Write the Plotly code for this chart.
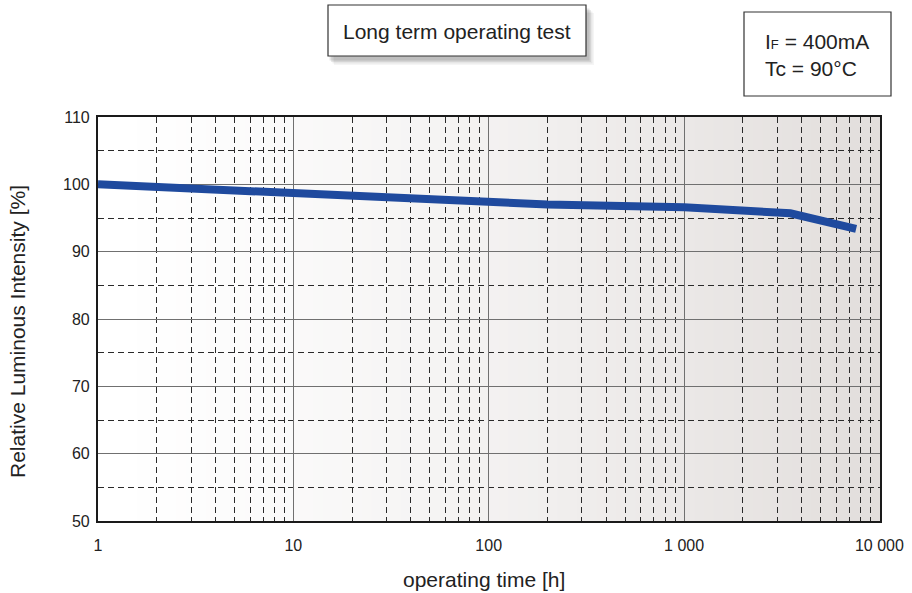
import plotly.graph_objects as go

# ---- data ----
hours = [1, 10, 100, 200, 1000, 3500, 7600]
intensity = [100.0, 98.6, 97.4, 97.0, 96.6, 95.7, 93.4]

x_tickvals = [1, 10, 100, 1000, 10000]
x_ticktext = ["1", "10", "100", "1 000", "10 000"]
x_minor = [m * 10 ** d for d in range(4) for m in range(2, 10)]
y_tickvals = [50, 60, 70, 80, 90, 100, 110]
y_minor = [55, 65, 75, 85, 95, 105]

FONT = "Arial, Liberation Sans, sans-serif"

L, R, T, B = 98, 32, 117, 72
W, H = 912, 593
PW, PH = W - L - R, H - T - B


def px(x):
    return (x - L) / PW


def py(y):
    return (H - B - y) / PH


fig = go.Figure()
fig.add_trace(go.Scatter(
    x=hours, y=intensity, mode="lines",
    line=dict(color="#1f4a9e", width=8),
    showlegend=False, hoverinfo="skip",
))

shapes = []
# gradient background (white -> light warm gray)
n = 80
c0 = (255, 255, 255)
c1 = (226, 222, 220)
for i in range(n):
    t = i / (n - 1)
    t2 = t ** 1.3
    col = tuple(round(c0[k] + (c1[k] - c0[k]) * t2) for k in range(3))
    shapes.append(dict(
        type="rect", xref="x domain", yref="y domain",
        x0=i / n, x1=(i + 1) / n + 0.002, y0=0, y1=1,
        fillcolor="rgb(%d,%d,%d)" % col, line=dict(width=0), layer="below",
    ))

# title box shadow + box
for k, op in enumerate([0.10, 0.08, 0.06, 0.04]):
    d = (k + 1) * 1.5
    shapes.append(dict(
        type="rect", xref="paper", yref="paper",
        x0=px(328 + d), x1=px(586 + d + 2),
        y0=py(57 + d + 2), y1=py(7 + d),
        fillcolor="rgba(0,0,0,%.2f)" % op, line=dict(width=0),
    ))
shapes.append(dict(
    type="rect", xref="paper", yref="paper",
    x0=px(328), x1=px(586), y0=py(56), y1=py(5),
    fillcolor="white", line=dict(color="#333333", width=1.2),
))
# condition box
shapes.append(dict(
    type="rect", xref="paper", yref="paper",
    x0=px(744), x1=px(891), y0=py(96), y1=py(12),
    fillcolor="white", line=dict(color="#333333", width=1.2),
))

annotations = [
    dict(text="Long term operating test", xref="paper", yref="paper",
         x=px(457), y=py(31), showarrow=False,
         font=dict(family=FONT, size=21, color="#222222"),
         xanchor="center", yanchor="middle"),
    dict(text="I<span style='font-size:13px'>F</span> = 400mA<br>Tc = 90°C",
         xref="paper", yref="paper",
         x=px(763), y=py(55), showarrow=False, align="left",
         font=dict(family=FONT, size=21, color="#222222"),
         xanchor="left", yanchor="middle"),
    dict(text="operating time [h]", xref="paper", yref="paper",
         x=px(484), y=py(579), showarrow=False,
         font=dict(family=FONT, size=21, color="#222222"),
         xanchor="center", yanchor="middle"),
    dict(text="Relative Luminous Intensity [%]", xref="paper", yref="paper",
         x=px(17), y=py(332), showarrow=False, textangle=-90,
         font=dict(family=FONT, size=21, color="#222222"),
         xanchor="center", yanchor="middle"),
]

fig.update_layout(
    width=W, height=H,
    margin=dict(l=L, r=R, t=T, b=B),
    paper_bgcolor="white", plot_bgcolor="white",
    font=dict(family=FONT, size=16, color="#222222"),
    shapes=shapes, annotations=annotations,
    showlegend=False,
)

fig.update_xaxes(
    type="log", range=[0, 4.003], automargin=False,
    tickmode="array", tickvals=x_tickvals, ticktext=x_ticktext,
    ticks="", ticklabelstandoff=9,
    tickfont=dict(family=FONT, size=16, color="#222222"),
    showgrid=True, gridcolor="#707070", gridwidth=1.2,
    minor=dict(tickmode="array", tickvals=x_minor, showgrid=True,
               gridcolor="#2a2a2a", gridwidth=1, griddash="6px,4px", ticks=""),
    showline=True, linecolor="#1a1a1a", linewidth=2.2, mirror=True,
    zeroline=False,
)
fig.update_yaxes(
    range=[50, 110], automargin=False,
    tickmode="array", tickvals=y_tickvals,
    ticks="", ticklabelstandoff=3,
    tickfont=dict(family=FONT, size=16, color="#222222"),
    showgrid=True, gridcolor="#707070", gridwidth=1.2,
    minor=dict(tickmode="array", tickvals=y_minor, showgrid=True,
               gridcolor="#2a2a2a", gridwidth=1, griddash="6px,4px", ticks=""),
    showline=True, linecolor="#1a1a1a", linewidth=2.2, mirror=True,
    zeroline=False,
)

fig.write_html(
    "out.html",
    config={"displayModeBar": False},
    post_script="document.body.style.margin='0';document.body.style.overflow='hidden';",
)
